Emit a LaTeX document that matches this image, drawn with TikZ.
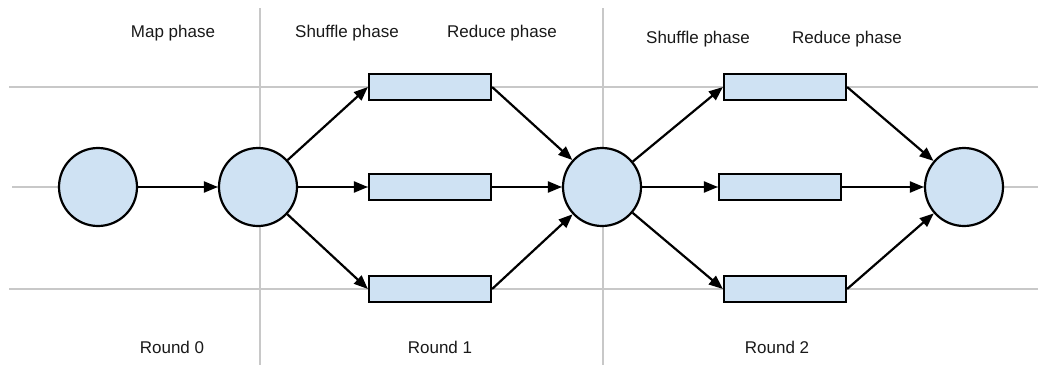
\documentclass[tikz,border=0pt]{standalone}
\usepackage{fontspec}
\setmainfont{Liberation Sans}
\usetikzlibrary{arrows.meta}
\definecolor{nodefill}{HTML}{CFE2F3}
\definecolor{gridgrey}{HTML}{C8C8C8}
\begin{document}
\begin{tikzpicture}[x=1pt,y=-1pt,
  gridline/.style={draw=gridgrey,line width=2pt},
  roundnode/.style={circle,draw=black,fill=nodefill,line width=2.2pt,minimum size=78pt,inner sep=0pt},
  task/.style={rectangle,draw=black,fill=nodefill,line width=2.2pt,minimum width=122pt,minimum height=26pt,inner sep=0pt},
  flow/.style={draw=black,line width=2.2pt,-{Triangle[length=14pt,width=11pt]}},
  label/.style={font=\fontsize{17}{20}\selectfont,text=black!90,inner sep=0pt,anchor=base}
]
\useasboundingbox (0,0) rectangle (1038,365);
% grid lines
\draw[gridline] (9,87) -- (1038,87);
\draw[gridline] (12,187) -- (1038,187);
\draw[gridline] (9,289) -- (1038,289);
\draw[gridline] (260,8) -- (260,365);
\draw[gridline] (603,8) -- (603,365);
% labels
\node[label] (lmap) at (173,37) {Map phase};
\node[label] (lsh1) at (347,37) {Shuffle phase};
\node[label] (lre1) at (502,37) {Reduce phase};
\node[label] (lsh2) at (698,43) {Shuffle phase};
\node[label] (lre2) at (847,43) {Reduce phase};
\node[label] (lr0) at (172,353) {Round 0};
\node[label] (lr1) at (440,353) {Round 1};
\node[label] (lr2) at (777,353) {Round 2};
% nodes
\node[roundnode] (c1) at (98,187) {};
\node[roundnode] (c2) at (258,187) {};
\node[roundnode] (c3) at (602,187) {};
\node[roundnode] (c4) at (964,187) {};
\node[task] (t1) at (430,87) {};
\node[task] (m1) at (430,187) {};
\node[task] (b1) at (430,289) {};
\node[task] (t2) at (785,87) {};
\node[task] (m2) at (780,187) {};
\node[task] (b2) at (785,289) {};
% connectors
\draw[flow] (c1) -- (c2);
\draw[flow] (c2) -- (t1.west);
\draw[flow] (c2) -- (m1.west);
\draw[flow] (c2) -- (b1.west);
\draw[flow] (t1.east) -- (c3);
\draw[flow] (m1.east) -- (c3);
\draw[flow] (b1.east) -- (c3);
\draw[flow] (c3) -- (t2.west);
\draw[flow] (c3) -- (m2.west);
\draw[flow] (c3) -- (b2.west);
\draw[flow] (t2.east) -- (c4);
\draw[flow] (m2.east) -- (c4);
\draw[flow] (b2.east) -- (c4);
\end{tikzpicture}
\end{document}
